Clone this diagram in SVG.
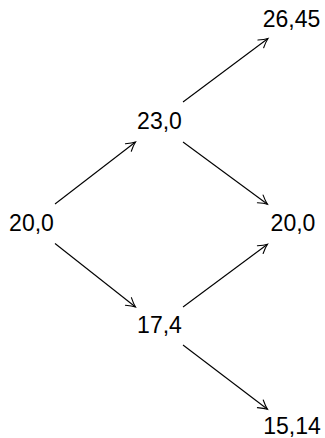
<svg xmlns="http://www.w3.org/2000/svg" width="325" height="438" viewBox="0 0 325 438">
<style>
.lbl{font-family:"Liberation Sans","Arial",sans-serif;font-size:23px;fill:#000;text-anchor:middle}
.edge{stroke:#000;stroke-width:1.1;fill:none}
</style>
<defs>
<marker id="arr" markerUnits="userSpaceOnUse" markerWidth="20" markerHeight="20" viewBox="-10 -10 20 20" refX="0" refY="0" orient="auto" overflow="visible">
<path d="M-9,-4.8 Q-3.5,-1.2 0,0 Q-3.5,1.2 -9,4.8" fill="none" stroke="#000" stroke-width="1.1" stroke-linecap="round"/>
</marker>
</defs>
<rect width="325" height="438" fill="#fff"/>
<g id="connectors">
<line class="edge" x1="55" y1="204" x2="135.5" y2="142" marker-end="url(#arr)"/>
<line class="edge" x1="183" y1="102" x2="268" y2="38.5" marker-end="url(#arr)"/>
<line class="edge" x1="183" y1="142" x2="267.5" y2="204.3" marker-end="url(#arr)"/>
<line class="edge" x1="55" y1="243.5" x2="135.5" y2="307" marker-end="url(#arr)"/>
<line class="edge" x1="183" y1="307" x2="267.5" y2="244.3" marker-end="url(#arr)"/>
<line class="edge" x1="183" y1="345" x2="267.5" y2="409.3" marker-end="url(#arr)"/>
</g>
<g id="n2645"><text class="lbl" x="291.5" y="27">26,45</text></g>
<g id="n230"><text class="lbl" x="159.5" y="129">23,0</text></g>
<g id="n200a"><text class="lbl" x="31.5" y="231">20,0</text></g>
<g id="n200b"><text class="lbl" x="293" y="231">20,0</text></g>
<g id="n174"><text class="lbl" x="159.5" y="333">17,4</text></g>
<g id="n1514"><text class="lbl" x="292" y="434" font-size="22.5">15,14</text></g>
</svg>
